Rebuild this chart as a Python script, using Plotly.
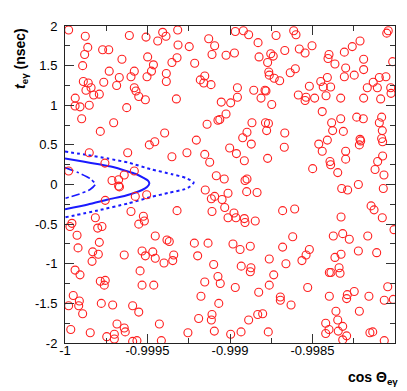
import plotly.graph_objects as go

# ---- scatter data: cos(Theta_e-gamma), t_e-gamma (nsec) ----
cos_theta = [
    -0.999978, -0.999877, -0.999610, -0.999509, -0.999862, -0.999772, -0.999735, -0.999881, -0.999499, -0.999655,
    -0.999893, -0.999464, -0.999732, -0.999580, -0.999476, -0.999503, -0.999600, -0.999671, -0.999889, -0.999859,
    -0.999765, -0.999687, -0.999842, -0.999873, -0.999580, -0.999570, -0.999826, -0.999792, -0.999553, -0.999513,
    -0.999938, -0.999939, -0.999909, -0.999853, -0.999626, -0.999899, -0.999705, -0.999786,
    -0.999408, -0.999388, -0.999317, -0.999438, -0.999129, -0.998968, -0.999315, -0.999247, -0.999093, -0.999109,
    -0.999024, -0.998973, -0.999321, -0.999352, -0.999214, -0.999386, -0.999386, -0.999153, -0.999180, -0.999159,
    -0.999115, -0.998955, -0.998955, -0.999325, -0.999053, -0.998996, -0.999024, -0.999062, -0.999073, -0.999139,
    -0.998919, -0.998887, -0.998721, -0.998614, -0.998600, -0.998830, -0.998824, -0.998753, -0.998738, -0.998772,
    -0.998668, -0.998580, -0.998545, -0.998503, -0.998604, -0.998635, -0.998765, -0.998762, -0.998732, -0.998699,
    -0.998856, -0.998788, -0.998782, -0.998519, -0.998812, -0.998586, -0.998539, -0.998545, -0.998487, -0.998747,
    -0.998867, -0.998785, -0.998767,
    -0.998041, -0.998050, -0.998212, -0.998259, -0.998307, -0.998400, -0.998406, -0.998364, -0.998190, -0.998014,
    -0.998299, -0.998190, -0.998410, -0.998307, -0.998247, -0.998450, -0.998435, -0.998390, -0.998418, -0.998329,
    -0.998190, -0.998168, -0.998132, -0.998095, -0.998055, -0.998107, -0.998026, -0.998024, -0.998087, -0.998441,
    -0.998384, -0.998329, -0.998232, -0.998192, -0.998081, -0.998095,
    -0.999489, -0.999853, -0.999620, -0.999758, -0.999978, -0.999580, -0.999641, -0.999715, -0.999675, -0.999675,
    -0.999670, -0.999574, -0.999505, -0.999756, -0.999600, -0.999525, -0.999519, -0.999553, -0.999816, -0.999958,
    -0.999970, -0.999802, -0.999776, -0.999927,
    -0.999396, -0.999456, -0.999204, -0.999352, -0.999261, -0.999153, -0.999123, -0.999002, -0.998961, -0.999083,
    -0.999035, -0.999150, -0.999093, -0.999113, -0.999048, -0.999012, -0.999032, -0.999109, -0.998976, -0.999012,
    -0.998964, -0.999321,
    -0.998897, -0.998923, -0.998778, -0.998668, -0.998871, -0.998671, -0.998462, -0.998913, -0.998772, -0.998499,
    -0.998909, -0.998897, -0.998899, -0.998836, -0.998681, -0.998608, -0.998913, -0.998909, -0.998847,
    -0.998378, -0.998313, -0.998077, -0.998081, -0.998075, -0.998212, -0.998208, -0.998216, -0.998410, -0.998441,
    -0.998299, -0.998299, -0.998394, -0.998390, -0.998347, -0.998075, -0.998105, -0.998121, -0.998067, -0.998323,
    -0.998287, -0.998222, -0.998071, -0.998145, -0.998127, -0.998077, -0.998327, -0.998006,
    -0.999792, -0.999921, -0.999832, -0.999798, -0.999641, -0.999533, -0.999513, -0.999836, -0.999939, -0.999909,
    -0.999545, -0.999786, -0.999756, -0.999762, -0.999533, -0.999950, -0.999913, -0.999978, -0.999917, -0.999893,
    -0.999780, -0.999711, -0.999590, -0.999553, -0.999685, -0.999641, -0.999635, -0.999965, -0.999847, -0.999747,
    -0.999701, -0.999701, -0.999590, -0.999564,
    -0.999453, -0.999382, -0.999368, -0.999216, -0.999133, -0.998982, -0.999468, -0.999453, -0.999341, -0.999347,
    -0.999400, -0.999196, -0.999099, -0.999073, -0.999059, -0.999153, -0.998968, -0.999462, -0.999176, -0.999068,
    -0.999109, -0.999113, -0.999190, -0.999428, -0.999255, -0.999095, -0.998996, -0.999416,
    -0.998620, -0.998877, -0.998681, -0.998519, -0.998539, -0.998564, -0.998939, -0.998762, -0.998661, -0.998932,
    -0.998873, -0.998877, -0.998735, -0.998762, -0.998826, -0.998695, -0.998695, -0.998529, -0.998630, -0.998832,
    -0.998802, -0.998887, -0.998933, -0.998768,
    -0.998374, -0.998317, -0.998277, -0.998165, -0.998222, -0.998111, -0.998327, -0.998364, -0.998339, -0.998398,
    -0.998388, -0.998333, -0.998044, -0.998398, -0.998289, -0.998293, -0.998247, -0.998158, -0.998065, -0.998010,
    -0.998358, -0.998216, -0.998347, -0.998420, -0.998317, -0.998400, -0.998344, -0.998420, -0.998293, -0.998152,
    -0.998135, -0.998317, -0.998065,
]
t_egamma = [
    1.95, 1.87, 1.88, 1.86, 1.73, 1.70, 1.70, 1.64, 1.61, 1.58,
    1.50, 1.51, 1.43, 1.43, 1.43, 1.36, 1.36, 1.35, 1.30, 1.28,
    1.29, 1.25, 1.22, 1.19, 1.22, 1.18, 1.13, 1.14, 1.11, 1.07,
    1.09, 0.99, 0.98, 1.00, 0.97, 0.83, 0.78, 0.67,
    1.92, 1.87, 1.95, 1.81, 1.84, 1.93, 1.76, 1.74, 1.75, 1.64,
    1.63, 1.66, 1.60, 1.54, 1.53, 1.40, 1.30, 1.37, 1.32, 1.28,
    1.26, 1.22, 1.10, 1.08, 1.04, 1.03, 0.89, 0.82, 0.81, 0.76,
    1.94, 1.89, 1.88, 1.94, 1.89, 1.79, 1.61, 1.65, 1.62, 1.54,
    1.69, 1.71, 1.66, 1.75, 1.46, 1.41, 1.42, 1.38, 1.34, 1.31,
    1.19, 1.19, 1.18, 1.24, 1.09, 1.13, 1.10, 1.06, 1.09, 1.01,
    0.78, 0.78, 0.77,
    1.94, 1.91, 1.81, 1.74, 1.67, 1.64, 1.59, 1.52, 1.58, 1.55,
    1.47, 1.45, 1.35, 1.36, 1.38, 1.30, 1.23, 1.23, 1.12, 1.09,
    1.09, 1.22, 1.29, 1.35, 1.36, 1.22, 1.22, 1.15, 1.08, 0.92,
    0.78, 0.83, 0.85, 0.83, 0.85, 0.78,
    0.50, 0.40, 0.40, 0.27, 0.17, 0.17, 0.12, 0.05, 0.06, -0.02,
    -0.03, -0.15, -0.13, -0.20, -0.34, -0.40, -0.46, -0.50, -0.42, -0.49,
    -0.53, -0.55, -0.53, -0.64,
    0.65, 0.54, 0.56, 0.35, 0.40, 0.38, 0.28, 0.46, 0.39, 0.11,
    0.07, -0.07, -0.15, -0.18, -0.19, -0.11, -0.29, -0.34, -0.36, -0.42,
    -0.42, -0.33,
    0.66, 0.59, 0.68, 0.65, 0.51, 0.47, 0.51, 0.30, 0.33, 0.20,
    0.05, 0.07, -0.09, -0.10, -0.33, -0.31, -0.43, -0.48, -0.46,
    0.68, 0.67, 0.68, 0.58, 0.54, 0.57, 0.55, 0.50, 0.56, 0.42,
    0.42, 0.32, 0.29, 0.25, 0.15, 0.36, 0.29, 0.19, 0.12, -0.05,
    -0.07, 0.00, -0.05, -0.27, -0.32, -0.42, -0.41, -0.57,
    -0.73, -0.80, -0.85, -0.88, -0.89, -0.84, -0.90, -0.97, -1.08, -1.14,
    -1.09, -1.22, -1.21, -1.27, -1.27, -1.40, -1.47, -1.53, -1.53, -1.63,
    -1.50, -1.52, -1.53, -1.61, -1.76, -1.81, -1.86, -1.83, -1.87, -1.92,
    -1.89, -1.95, -1.98, -1.97,
    -0.65, -0.70, -0.72, -0.74, -0.74, -0.75, -0.85, -0.93, -0.89, -0.96,
    -0.99, -0.90, -1.01, -1.16, -1.25, -1.23, -1.30, -1.27, -1.41, -1.50,
    -1.64, -1.71, -1.69, -1.76, -1.87, -1.85, -1.89, -1.97,
    -0.66, -0.78, -0.79, -0.82, -0.89, -0.96, -0.82, -0.94, -1.00, -1.03,
    -1.05, -1.10, -1.14, -1.27, -1.36, -1.42, -1.46, -1.30, -1.52, -1.64,
    -1.63, -1.71, -1.86, -1.86,
    -0.65, -0.62, -0.69, -0.65, -0.84, -0.86, -0.88, -0.92, -1.05, -1.11,
    -1.11, -1.12, -1.29, -1.41, -1.39, -1.44, -1.35, -1.41, -1.46, -1.45,
    -1.60, -1.60, -1.71, -1.75, -1.79, -1.83, -1.85, -1.88, -1.91, -1.87,
    -1.86, -1.96, -1.97,
]

# ---- likelihood contours ----
solid_x = [-1.0, -0.999891, -0.999794, -0.999709, -0.99963, -0.99957, -0.999527, -0.999497,
           -0.999489, -0.999503, -0.999533, -0.99963, -0.999739, -0.999861, -1.0]
solid_y = [0.327, 0.289, 0.255, 0.22, 0.172, 0.132, 0.088, 0.05,
           0.013, -0.031, -0.069, -0.138, -0.189, -0.252, -0.311]
dotted_x = [-1.0, -0.999861, -0.999739, -0.999618, -0.999473, -0.999352, -0.999267, -0.99922,
            -0.999242, -0.999273, -0.999376, -0.999473, -0.999618, -0.9998, -1.0]
dotted_y = [0.415, 0.371, 0.327, 0.277, 0.189, 0.13, 0.082, 0.025,
            -0.025, -0.059, -0.107, -0.155, -0.239, -0.327, -0.415]
dashdot_x = [-1.0, -0.999921, -0.999848, -0.999816, -0.999848, -0.999921, -1.0]
dashdot_y = [0.214, 0.151, 0.075, 0.004, -0.063, -0.126, -0.176]

x_tickvals = [-1.0, -0.9995, -0.999, -0.9985]
x_ticktext = ["-1", "-0.9995", "-0.999", "-0.9985"]
y_tickvals = [-2, -1.5, -1, -0.5, 0, 0.5, 1, 1.5, 2]
y_ticktext = ["-2", "-1.5", "-1", "-0.5", "0", "0.5", "1", "1.5", "2"]

BLUE = "#1a1aff"
fig = go.Figure()
fig.add_trace(go.Scatter(x=dotted_x, y=dotted_y, mode="lines",
                         line=dict(color=BLUE, width=2, dash="dot", shape="spline", smoothing=0.6)))
fig.add_trace(go.Scatter(x=solid_x, y=solid_y, mode="lines",
                         line=dict(color=BLUE, width=2, shape="spline", smoothing=0.6)))
fig.add_trace(go.Scatter(x=dashdot_x, y=dashdot_y, mode="lines",
                         line=dict(color=BLUE, width=1.6, dash="dashdot", shape="spline", smoothing=0.6)))
fig.add_trace(go.Scatter(x=cos_theta, y=t_egamma, mode="markers",
                         marker=dict(symbol="circle-open", size=8, color="#ff2020",
                                     line=dict(width=1.1, color="#ff2020"))))

axis_common = dict(showgrid=False, zeroline=False, showline=True, linecolor="#222",
                   linewidth=1, mirror="allticks", ticks="inside", tickcolor="#333",
                   ticklen=9, tickwidth=1,
                   tickfont=dict(family="Liberation Sans, Arial", size=13, color="black"))
fig.update_xaxes(range=[-1.0, -0.998], tickvals=x_tickvals, ticktext=x_ticktext,
                 minor=dict(ticks="inside", ticklen=5, dtick=0.00025, tick0=-1.0, tickcolor="#333"),
                 ticklabelstandoff=-5, **axis_common)
fig.update_yaxes(range=[-2, 2], tickvals=y_tickvals, ticktext=y_ticktext,
                 minor=dict(ticks="inside", ticklen=5, dtick=0.25, tick0=-2, tickcolor="#333"),
                 ticklabelstandoff=4, **axis_common)

fig.add_annotation(text="<b><i>t</i><sub>eγ</sub> (nsec)</b>", xref="paper", yref="paper",
                   x=-0.135, y=1.0, xanchor="center", yanchor="top", textangle=-90,
                   showarrow=False, font=dict(family="Liberation Sans, Arial", size=14, color="black"))
fig.add_annotation(text="<b>cos Θ<sub>eγ</sub></b>", xref="paper", yref="paper",
                   x=1.015, y=-0.075, xanchor="right", yanchor="top",
                   showarrow=False, font=dict(family="Liberation Sans, Arial", size=14, color="black"))

fig.update_layout(width=407, height=391, showlegend=False,
                  margin=dict(l=57, r=20, t=18, b=56),
                  plot_bgcolor="white", paper_bgcolor="white")
fig.write_html("out.html")
